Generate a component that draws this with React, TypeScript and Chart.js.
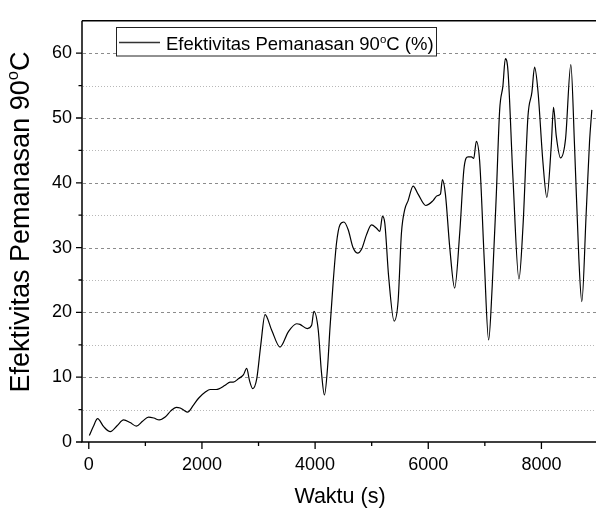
import React, { useEffect, useRef } from "react";
import { Chart, registerables } from "chart.js";

Chart.register(...registerables);

// ---- data ----
const timeSeconds = [
  10, 80, 156, 260, 380, 500, 615, 730, 840, 950, 1056, 1150, 1245, 1350, 1450, 1545, 1615, 1680, 1745,
  1850, 1940, 2060, 2144, 2250, 2409, 2497, 2555, 2650, 2732, 2791, 2840, 2897, 2968, 3040, 3115, 3233,
  3380, 3526, 3674, 3732, 3862, 3938, 3979, 4056, 4110, 4165, 4220, 4262, 4320, 4379, 4438, 4509, 4585,
  4670, 4750, 4821, 4909, 4997, 5085, 5144, 5191, 5232, 5300, 5397, 5467, 5526, 5585, 5644, 5732, 5820,
  5956, 6085, 6155, 6215, 6250, 6303, 6380, 6467, 6556, 6632, 6703, 6762, 6803, 6850, 6909, 6990, 7067,
  7130, 7203, 7262, 7320, 7362, 7409, 7497, 7603, 7674, 7762, 7832, 7879, 7938, 8026, 8096, 8174, 8214,
  8262, 8338, 8426, 8520, 8585, 8662, 8714, 8791, 8850, 8891,
];
const effectiveness = [
  1.0, 2.4, 3.6, 2.4, 1.6, 2.5, 3.4, 3.0, 2.45, 3.2, 3.85, 3.7, 3.4, 3.85, 4.8, 5.35, 5.25, 4.9, 4.6,
  5.7, 6.75, 7.7, 8.1, 8.1, 8.75, 9.25, 9.25, 9.8, 10.35, 11.35, 9.5, 8.25, 9.75, 15.0, 19.65, 17.25,
  14.65, 17.0, 18.25, 18.15, 17.5, 18.0, 20.15, 17.25, 11.0, 7.25, 11.5, 17.5, 24.75, 30.75, 33.5, 33.95, 32.75,
  30.0, 29.15, 29.75, 32.0, 33.5, 33.0, 32.5, 34.85, 33.75, 25.5, 18.65, 21.75, 32.25, 35.9, 37.25, 39.5, 38.25,
  36.5, 37.25, 38.0, 38.25, 40.5, 38.25, 30.0, 23.75, 32.25, 42.25, 44.0, 44.0, 43.75, 46.4, 43.25, 28.0, 15.75,
  24.0, 38.25, 51.25, 55.0, 59.15, 57.25, 40.75, 25.15, 33.25, 50.25, 54.0, 57.85, 54.25, 43.25, 37.75, 45.75, 51.65,
  47.25, 43.85, 46.75, 58.25, 45.75, 28.25, 21.65, 35.25, 46.25, 51.25,
];

const xTickValues = [0, 2000, 4000, 6000, 8000];
const xMinorTickValues = [1000, 3000, 5000, 7000];
const yTickValues = [0, 10, 20, 30, 40, 50, 60];
const yMinorTickValues = [5, 15, 25, 35, 45, 55];

const seriesLabelParts = ["Efektivitas Pemanasan 90", "o", "C (%)"];
const yTitleParts = ["Efektivitas Pemanasan 90", "o", "C"];
const xTitleText = "Waktu (s)";

const FONT = "'Liberation Sans', Arial, Helvetica, sans-serif";

function richWidth(ctx: CanvasRenderingContext2D, parts: string[], size: number) {
  ctx.font = `${size}px ${FONT}`;
  const a = ctx.measureText(parts[0]).width;
  const c = ctx.measureText(parts[2]).width;
  ctx.font = `${size * 0.62}px ${FONT}`;
  const b = ctx.measureText(parts[1]).width;
  return a + b + c;
}

function drawRich(ctx: CanvasRenderingContext2D, parts: string[], x: number, y: number, size: number) {
  ctx.textBaseline = "alphabetic";
  ctx.textAlign = "left";
  ctx.fillStyle = "#000";
  ctx.font = `${size}px ${FONT}`;
  ctx.fillText(parts[0], x, y);
  let cx = x + ctx.measureText(parts[0]).width;
  ctx.font = `${size * 0.62}px ${FONT}`;
  ctx.fillText(parts[1], cx, y - size * 0.4);
  cx += ctx.measureText(parts[1]).width;
  ctx.font = `${size}px ${FONT}`;
  ctx.fillText(parts[2], cx, y);
}

const decorPlugin = {
  id: "decor",
  beforeDatasetsDraw(chart: any) {
    const { ctx, chartArea } = chart;
    const y = chart.scales.y;
    ctx.save();
    ctx.lineWidth = 1;
    // minor dotted grid
    ctx.strokeStyle = "#b8b8b8";
    ctx.setLineDash([1, 2]);
    yMinorTickValues.forEach((v) => {
      const py = Math.round(y.getPixelForValue(v)) + 0.5;
      ctx.beginPath();
      ctx.moveTo(chartArea.left + 1, py);
      ctx.lineTo(chartArea.right, py);
      ctx.stroke();
    });
    // major dashed grid
    ctx.strokeStyle = "#8c8c8c";
    ctx.setLineDash([3, 3]);
    yTickValues.filter((v) => v !== 0).forEach((v) => {
      const py = Math.round(y.getPixelForValue(v)) + 0.5;
      ctx.beginPath();
      ctx.moveTo(chartArea.left + 1, py);
      ctx.lineTo(chartArea.right, py);
      ctx.stroke();
    });
    ctx.restore();
  },
  afterDraw(chart: any) {
    const { ctx, chartArea } = chart;
    const x = chart.scales.x;
    const y = chart.scales.y;
    ctx.save();
    ctx.setLineDash([]);
    ctx.strokeStyle = "#000";
    ctx.lineWidth = 1.5;
    // frame: left, bottom, top
    ctx.beginPath();
    ctx.moveTo(chartArea.left, chartArea.top);
    ctx.lineTo(chartArea.left, chartArea.bottom);
    ctx.lineTo(chartArea.right + 2, chartArea.bottom);
    ctx.moveTo(chartArea.left, chartArea.top);
    ctx.lineTo(chartArea.right + 2, chartArea.top);
    ctx.stroke();
    // ticks
    ctx.lineWidth = 1.3;
    ctx.beginPath();
    xTickValues.forEach((v) => {
      const px = x.getPixelForValue(v);
      ctx.moveTo(px, chartArea.bottom);
      ctx.lineTo(px, chartArea.bottom + 7);
    });
    xMinorTickValues.forEach((v) => {
      const px = x.getPixelForValue(v);
      ctx.moveTo(px, chartArea.bottom);
      ctx.lineTo(px, chartArea.bottom + 4);
    });
    yTickValues.forEach((v) => {
      const py = y.getPixelForValue(v);
      ctx.moveTo(chartArea.left, py);
      ctx.lineTo(chartArea.left - 6, py);
    });
    yMinorTickValues.forEach((v) => {
      const py = y.getPixelForValue(v);
      ctx.moveTo(chartArea.left, py);
      ctx.lineTo(chartArea.left - 3.5, py);
    });
    ctx.stroke();

    // legend
    const lx = 116.5, ly = 27.5, lw = 320, lh = 28.5;
    ctx.fillStyle = "#fff";
    ctx.fillRect(lx, ly, lw, lh);
    ctx.strokeStyle = "#222";
    ctx.lineWidth = 1;
    ctx.strokeRect(lx, ly, lw, lh);
    ctx.strokeStyle = "#333";
    ctx.lineWidth = 1.5;
    ctx.beginPath();
    ctx.moveTo(119, 42.5);
    ctx.lineTo(160, 42.5);
    ctx.stroke();
    drawRich(ctx, seriesLabelParts, 166, 50, 18.5);

    // y title (rotated)
    const ySize = 27;
    const yw = richWidth(ctx, yTitleParts, ySize);
    ctx.save();
    ctx.translate(28.5, 222);
    ctx.rotate(-Math.PI / 2);
    drawRich(ctx, yTitleParts, -yw / 2, 0, ySize);
    ctx.restore();

    // x title
    ctx.font = `21.5px ${FONT}`;
    ctx.fillStyle = "#000";
    ctx.textAlign = "center";
    ctx.textBaseline = "alphabetic";
    ctx.fillText(xTitleText, (chartArea.left + chartArea.right) / 2, 503);
    ctx.restore();
  },
};

export default function App() {
  const canvasRef = useRef<HTMLCanvasElement | null>(null);

  useEffect(() => {
    const canvas = canvasRef.current;
    if (!canvas) return;
    const points = timeSeconds.map((t, i) => ({ x: t, y: effectiveness[i] }));
    const chart = new Chart(canvas, {
      type: "line",
      data: {
        datasets: [
          {
            label: seriesLabelParts.join(""),
            data: points,
            borderColor: "#000",
            borderWidth: 1.2,
            pointRadius: 0,
            fill: false,
            cubicInterpolationMode: "monotone",
          },
        ],
      },
      options: {
        animation: false,
        responsive: false,
        devicePixelRatio: 1,
        layout: { padding: { top: 9, right: 2, left: 0, bottom: 0 } },
        plugins: { legend: { display: false }, tooltip: { enabled: false } },
        scales: {
          x: {
            type: "linear",
            min: -120,
            max: 9000,
            afterBuildTicks: (s: any) => {
              s.ticks = xTickValues.map((v) => ({ value: v }));
            },
            afterFit: (s: any) => {
              s.height = 66;
            },
            grid: { display: false, drawTicks: false },
            border: { display: false },
            ticks: {
              padding: 12,
              color: "#000",
              font: { family: FONT, size: 18 },
              maxRotation: 0,
              autoSkip: false,
              callback: (v: any) => String(v),
            },
          },
          y: {
            type: "linear",
            min: 0,
            max: 65,
            afterBuildTicks: (s: any) => {
              s.ticks = yTickValues.map((v) => ({ value: v }));
            },
            afterFit: (s: any) => {
              s.width = 82;
            },
            grid: { display: false, drawTicks: false },
            border: { display: false },
            ticks: {
              padding: 10,
              color: "#000",
              font: { family: FONT, size: 18 },
              autoSkip: false,
              callback: (v: any) => String(v),
            },
          },
        },
      },
      plugins: [decorPlugin],
    });
    return () => chart.destroy();
  }, []);

  return (
    <div
      style={{
        position: "fixed",
        left: 0,
        top: 0,
        width: 596,
        height: 508,
        overflow: "hidden",
        background: "#fff",
      }}
    >
      <canvas ref={canvasRef} width={600} height={508} style={{ display: "block", width: 600, height: 508 }} />
    </div>
  );
}
